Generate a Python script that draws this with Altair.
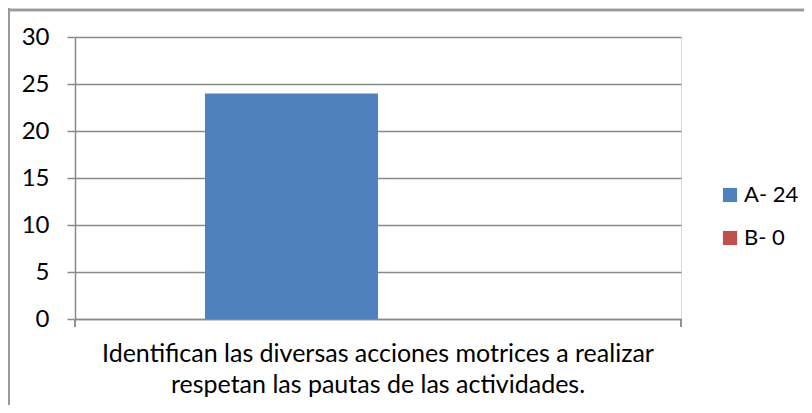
import altair as alt
import pandas as pd

categorias = ["Identifican las diversas acciones motrices a realizar\nrespetan las pautas de las actividades."]
series = ["A- 24", "B- 0"]
valores = [24, 0]
colores = ["#4F81BD", "#C0504D"]
y_ticks = [0, 5, 10, 15, 20, 25, 30]

df = pd.DataFrame({
    "categoria": [categorias[0]] * len(series),
    "serie": series,
    "valor": valores,
})

W, H = 606, 282
FONT = "Lato"
GRAY = "#8a8a8a"

bars = alt.Chart(df).mark_bar().encode(
    x=alt.X("categoria:N", title=None,
            scale=alt.Scale(paddingInner=0, paddingOuter=0),
            axis=alt.Axis(labelAngle=0, ticks=False, domainColor=GRAY, domainWidth=1.5,
                          labelExpr="split(datum.label, '\\n')", labelFontSize=25,
                          labelLineHeight=31, labelPadding=22, labelColor="#000000",
                          labelFont=FONT, labelLimit=800)),
    xOffset=alt.XOffset("serie:N", scale=alt.Scale(domain=series, paddingInner=0, paddingOuter=0.7514)),
    y=alt.Y("valor:Q", title=None,
            scale=alt.Scale(domain=[0, 30], nice=False),
            axis=alt.Axis(values=y_ticks, grid=True, gridColor=GRAY, gridWidth=1.5,
                          tickColor=GRAY, tickSize=8, tickWidth=1.5, domainColor=GRAY,
                          domainWidth=1.5, labelFontSize=24, labelPadding=18,
                          labelColor="#000000", labelFont=FONT)),
    color=alt.Color("serie:N", scale=alt.Scale(domain=series, range=colores),
                    legend=alt.Legend(title=None, orient="none", legendX=644, legendY=147,
                                      symbolType="square", symbolSize=200, symbolStrokeWidth=0,
                                      labelFontSize=22, labelFont=FONT, labelColor="#000000",
                                      labelOffset=3, rowPadding=21)),
)

tick_left = alt.Chart(df).mark_rule(color=GRAY, strokeWidth=1.5).encode(
    x=alt.value(0), y=alt.value(H), y2=alt.value(H + 8))
tick_right = alt.Chart(df).mark_rule(color=GRAY, strokeWidth=1.5).encode(
    x=alt.value(W), y=alt.value(H), y2=alt.value(H + 8))
frame_left = alt.Chart(df).mark_rule(color="#9a9a9a", strokeWidth=2).encode(
    x=alt.value(-66), y=alt.value(-29), y2=alt.value(H + 90))
frame_top = alt.Chart(df).mark_rule(color="#9a9a9a", strokeWidth=2.5).encode(
    x=alt.value(-67), x2=alt.value(W + 130), y=alt.value(-27))

chart = alt.layer(bars, tick_left, tick_right, frame_left, frame_top).properties(
    width=W, height=H,
    autosize=alt.AutoSizeParams(type="none"),
    padding={"left": 67, "top": 29, "right": 123, "bottom": 86},
).configure_view(stroke=None).configure(font=FONT)

chart.save("out.html", embed_options={"renderer": "svg", "actions": False})
